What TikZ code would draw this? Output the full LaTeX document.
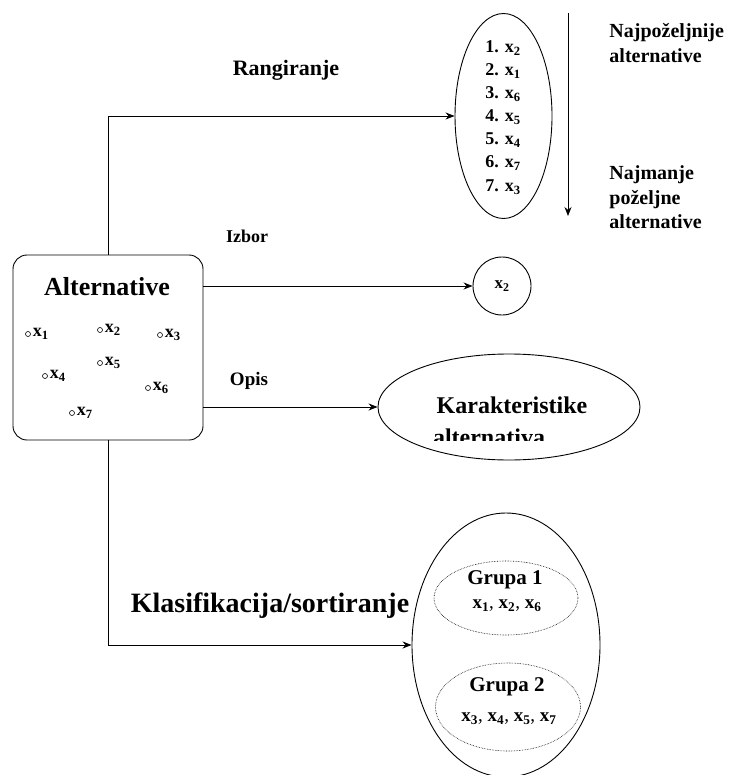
\documentclass[tikz,border=0pt]{standalone}
\usepackage{fontspec}
\setmainfont{Liberation Serif}
\usetikzlibrary{arrows.meta,shapes.geometric}
\newcommand{\xsub}[1]{\textbf{x\textsubscript{#1}}}
\newcommand{\fs}[1]{\fontsize{#1}{#1}\selectfont}
\begin{document}
\begin{tikzpicture}[x=1pt,y=-1pt,
  line width=0.9pt,
  conn/.style={-{Stealth[length=9pt,width=7pt]}},
  lbl/.style={font=\bfseries\fs{17}, inner sep=0pt},
  side/.style={font=\bfseries\fs{20}, inner sep=0pt, anchor=base west},
  item/.style={font=\fs{18}, inner sep=0pt, anchor=west},
  pt/.style={circle, draw, line width=0.6pt, minimum size=5pt, inner sep=0pt},
  oval/.style={ellipse, draw, inner sep=0pt}]
\useasboundingbox (0,0) rectangle (732,775);

% source box with the alternatives
\node[draw, rounded corners=14pt, minimum width=190pt, minimum height=185pt] (alt) at (108,347.5) {};
\node[font=\bfseries\fs{26}, inner sep=0pt] (altt) at (107,287) {Alternative};
\foreach \n/\px/\py in {1/28/334, 2/100/330, 3/160/335, 4/45/376, 5/100/363, 6/148/388, 7/72/413} {
  \node[pt] (p\n) at (\px,\py) {};
  \node[item, font=\fs{18}] (q\n) at ([xshift=1.5pt]p\n.east) {\xsub{\n}};
}

% ranking
\node[oval, minimum width=97pt, minimum height=205pt] (rank) at (503.5,116) {};
\foreach \i/\k/\yy in {1/2/48, 2/1/71, 3/6/94, 4/5/117, 5/4/140, 6/7/163, 7/3/187} {
  \node[item] (r\i) at (485,\yy) {\textbf{\i. }\xsub{\k}};
}
\coordinate (atop) at (568,13);
\coordinate (abot) at (568,216);
\draw[conn] (atop) -- (abot);
\node[side] (best1) at (609,38) {Najpoželjnije};
\node[side] (best2) at (609,63) {alternative};
\node[side] (worst1) at (609,180) {Najmanje};
\node[side] (worst2) at (609,205) {poželjne};
\node[side] (worst3) at (609,229) {alternative};
\draw[conn] (alt.north) |- (rank.west);
\node[lbl, font=\bfseries\fs{22}] (lrang) at (286,70) {Rangiranje};

% choice
\node[circle, draw, minimum size=58pt, inner sep=0pt, font=\fs{17}] (choice) at (502,286) {\xsub{2}};
\draw[conn] (alt.east |- choice) -- (choice.west);
\node[lbl, font=\bfseries\fs{18}] (lizb) at (247,236) {Izbor};

% description
\node[oval, minimum width=262pt, minimum height=106pt] (desc) at (509,407) {};
\begin{scope}
  \clip (370,350) rectangle (660,440);
  \node[font=\bfseries\fs{24}, inner sep=0pt, anchor=base] (desct1) at (512,413) {Karakteristike};
  \node[font=\bfseries\fs{24}, inner sep=0pt, anchor=base] (desct2) at (489,445) {alternativa};
\end{scope}
\draw[conn] (alt.east |- desc) -- (desc.west);
\node[lbl, font=\bfseries\fs{19}] (lopis) at (249,381) {Opis};

% classification / sorting
\node[oval, minimum width=188pt, minimum height=264pt] (cls) at (506,645) {};
\node[oval, densely dotted, line width=0.6pt, minimum width=144pt, minimum height=74pt] (g1) at (506,598) {};
\node[oval, densely dotted, line width=0.6pt, minimum width=145pt, minimum height=88pt] (g2) at (508,707) {};
\node[lbl, font=\bfseries\fs{21}] (g1t) at (505,580) {Grupa 1};
\node[inner sep=0pt, font=\fs{19}] (g1x) at (507,606) {\xsub{1}, \xsub{2}, \xsub{6}};
\node[lbl, font=\bfseries\fs{21}] (g2t) at (507,687) {Grupa 2};
\node[inner sep=0pt, font=\fs{19}] (g2x) at (509,719) {\xsub{3}, \xsub{4}, \xsub{5}, \xsub{7}};
\draw[conn] (alt.south) |- (cls.west);
\node[lbl, font=\bfseries\fs{28}] (lcls) at (270,606) {Klasifikacija/sortiranje};
\end{tikzpicture}
\end{document}
